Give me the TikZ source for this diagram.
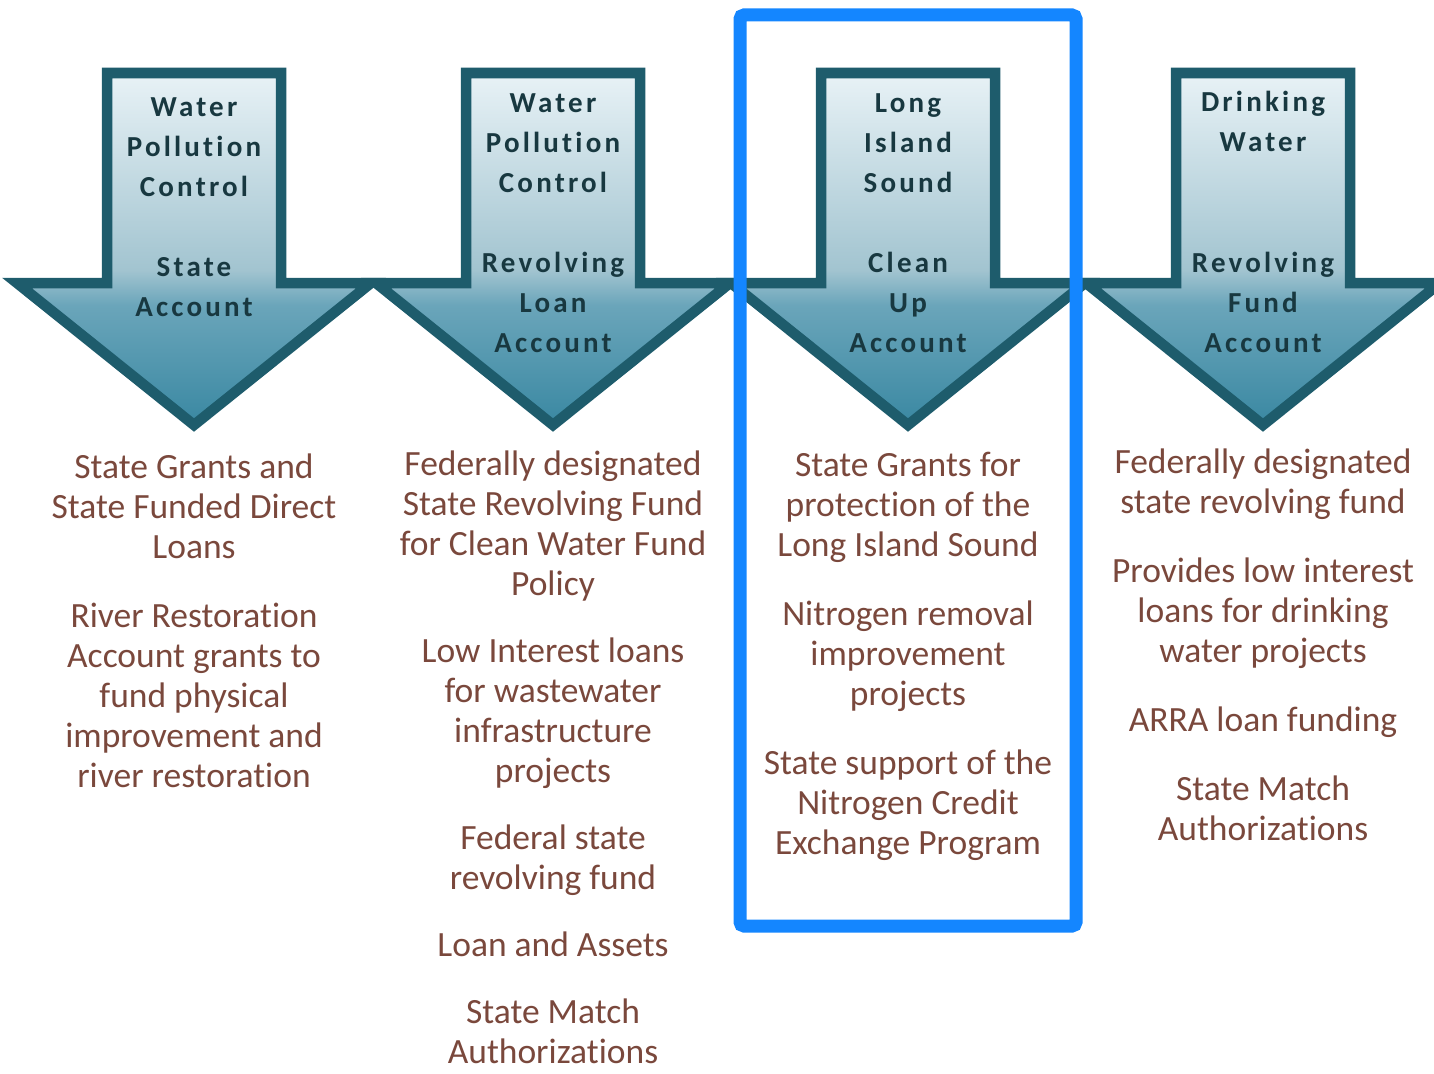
\documentclass[tikz,border=0pt]{standalone}
\usepackage{fontspec}
\setmainfont[Ligatures=NoCommon]{Carlito}
\newfontfamily\headfont[Ligatures=NoCommon,LetterSpace=11]{Carlito}

\definecolor{acctedge}{RGB}{30,92,108}
\definecolor{accttop}{RGB}{232,242,246}
\definecolor{acctmid}{RGB}{162,196,208}
\definecolor{acctlow}{RGB}{106,165,186}
\definecolor{accttip}{RGB}{58,136,162}
\definecolor{headtext}{RGB}{24,56,64}
\definecolor{bodytext}{RGB}{122,72,60}
\definecolor{hlblue}{RGB}{20,134,255}

\pgfdeclareverticalshading{acctshade}{100bp}{color(0bp)=(accttip); color(25bp)=(accttip);
  color(42bp)=(acctlow); color(47bp)=(acctmid); color(75bp)=(accttop); color(100bp)=(accttop)}

\begin{document}
\begin{tikzpicture}[x=1pt,y=-1pt,
                    arrowbox/.style={line width=10.5pt,draw=acctedge,shading=acctshade},
                    acct/.style={font=\headfont\bfseries\fontsize{29}{40}\selectfont,text=headtext,align=center,anchor=base,inner sep=0pt},
                    uses/.style={font=\fontsize{35.5}{40}\selectfont,text=bodytext,align=center,anchor=base,inner sep=0pt}]

\useasboundingbox (0,0) rectangle (1434,1073);

% the four account arrows
\foreach \c in {194,553,908,1263}
{
\shadedraw [arrowbox] (\c-87,73) -- (\c+87,73) -- (\c+87,283) -- (\c+177,283) -- (\c,425)
  -- (\c-177,283) -- (\c-87,283) -- cycle;
}

% names of the accounts (placed at the baseline of their last line)
\node [acct] (wpcstate) at (194,316) {Water\\Pollution\\Control\\[40pt]State\\Account};
\node [acct] (wpcloan) at (553,352) {Water\\Pollution\\Control\\[40pt]Revolving\\Loan\\Account};
\node [acct] (lis) at (908,352) {Long\\Island\\Sound\\[40pt]Clean\\Up\\Account};
\node [acct] (dwfund) at (1263,352) {Drinking\\Water\\[81pt]Revolving\\Fund\\Account};

\node [uses] (wpcstateuses) at (194,787) {State Grants and\\State Funded Direct\\Loans\\[29pt]River Restoration\\Account grants to\\fund physical\\improvement and\\river restoration};
\node [uses] (wpcloanuses) at (553,1063) {Federally designated\\State Revolving Fund\\for Clean Water Fund\\Policy\\[27pt]Low Interest loans\\for wastewater\\infrastructure\\projects\\[27pt]Federal state\\revolving fund\\[27pt]Loan and Assets\\[27pt]State Match\\Authorizations};
\node [uses] (lisuses) at (908,854) {State Grants for\\protection of the\\Long Island Sound\\[29pt]Nitrogen removal\\improvement\\projects\\[29pt]State support of the\\Nitrogen Credit\\Exchange Program};
\node [uses] (dwfunduses) at (1263,840) {Federally designated\\state revolving fund\\[29pt]Provides low interest\\loans for drinking\\water projects\\[29pt]ARRA loan funding\\[29pt]State Match\\Authorizations};

% highlight round the Long Island Sound column
\draw [line width=13pt,hlblue,rounded corners=4pt] (740,15) rectangle (1076,926);

\end{tikzpicture}
\end{document}
